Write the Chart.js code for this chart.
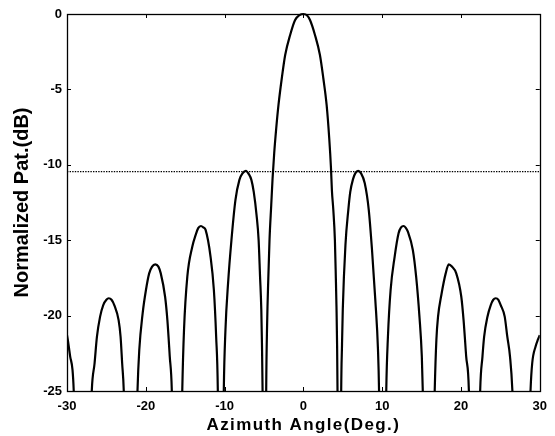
<!DOCTYPE html>
<html>
<head>
<meta charset="utf-8">
<script src="https://cdn.jsdelivr.net/npm/chart.js@4"></script>
<style>
html,body{margin:0;padding:0;background:#fff;}
#wrap{width:555px;height:436px;position:relative;}
</style>
</head>
<body>
<div id="wrap"><canvas id="c" width="555" height="436"></canvas></div>
<script>
// Azimuth angle (deg)
const angles = [
  -30.0, -29.9, -29.6, -29.3, -29.15, -28.0,
  -26.85, -26.5, -26.2, -25.8, -25.4, -25.0, -24.7, -24.35, -24.0, -23.45, -23.2, -23.0, -22.8, -21.9,
  -21.05, -20.83, -20.4, -19.98, -19.57, -19.2, -18.8, -18.4, -18.1, -17.55, -17.26, -16.96, -16.7, -16.0,
  -15.37, -15.15, -14.73, -14.1, -13.67, -13.35, -13.0, -12.7, -12.41, -11.78, -11.36, -11.07, -10.86, -10.5,
  -10.1, -9.89, -9.56, -9.13, -8.62, -8.12, -7.7, -7.3, -6.95, -6.6, -6.3, -5.95, -5.68, -5.5, -5.34, -5.26, -5.18, -4.92,
  -4.72, -4.6, -4.45, -4.3, -4.08, -3.91, -3.7, -3.45, -3.16, -2.74, -2.31, -1.68, -1.05, -0.5, 0.0,
  0.45, 0.84, 1.47, 2.1, 2.53, 2.95, 3.28, 3.5, 3.62, 3.8, 4.0, 4.12, 4.2, 4.28, 4.33, 4.58,
  4.8, 4.9, 5.0, 5.34, 5.7, 5.95, 6.3, 6.6, 6.95, 7.3, 7.79, 8.3, 8.71, 9.13, 9.47, 9.6, 10.05,
  10.52, 10.73, 11.07, 11.58, 12.08, 12.4, 12.7, 13.0, 13.26, 13.89, 14.31, 14.73, 15.03, 15.15, 15.9,
  16.67, 16.88, 17.09, 17.51, 18.06, 18.45, 18.85, 19.4, 20.04, 20.33, 20.66, 21.0, 21.7,
  22.44, 22.73, 22.94, 23.36, 23.78, 24.1, 24.41, 24.75, 25.04, 25.55, 25.88, 26.22, 26.52, 27.7,
  28.83, 29.04, 29.46, 29.76, 30.0
];
// Normalized pattern (dB); -45 marks a null below the axis
const patternDB = [
  -21.3, -21.6, -22.7, -23.6, -24.93, -45,
  -24.93, -23.16, -21.4, -20.07, -19.3, -18.95, -18.85, -18.95, -19.3, -20.3, -21.4, -23.16, -24.93, -45,
  -24.93, -22.3, -19.85, -18.3, -17.2, -16.75, -16.6, -16.75, -17.2, -18.75, -20.3, -22.7, -24.93, -45,
  -24.93, -20.95, -17.42, -15.43, -14.65, -14.2, -14.06, -14.15, -14.32, -16.1, -18.3, -21.4, -24.93, -45,
  -24.93, -20.95, -17.86, -14.99, -12.33, -11.0, -10.55, -10.4, -10.6, -11.0, -11.8, -13.3, -15.0, -17.4, -19.6, -21.8, -24.93, -45,
  -24.93, -20.5, -17.5, -15.0, -12.67, -10.9, -9.2, -7.6, -6.03, -4.26, -2.72, -1.39, -0.4, -0.08, 0.0,
  -0.08, -0.4, -1.39, -2.72, -4.26, -6.03, -8.24, -10.2, -11.7, -13.0, -15.0, -17.5, -19.4, -22.0, -24.93, -45,
  -24.93, -22.0, -19.6, -15.3, -13.0, -11.8, -10.95, -10.55, -10.4, -10.55, -11.23, -13.0, -15.65, -18.97, -22.28, -24.93, -45,
  -24.93, -21.4, -18.3, -16.1, -14.54, -14.15, -14.06, -14.18, -14.43, -15.65, -17.42, -20.07, -22.7, -24.93, -45,
  -24.93, -21.6, -20.07, -18.63, -17.2, -16.6, -16.75, -17.2, -18.75, -20.3, -22.7, -24.93, -45,
  -24.93, -22.7, -21.4, -20.07, -19.3, -18.95, -18.85, -18.95, -19.3, -20.07, -21.4, -22.7, -24.93, -45,
  -24.93, -23.16, -22.06, -21.6, -21.3
];
const refLevelDB = -10.45;
const xTicks = [-30, -20, -10, 0, 10, 20, 30];
const yTicks = [0, -5, -10, -15, -20, -25];

const curve = angles.map((a, i) => ({x: a, y: patternDB[i]}));
const refLine = [{x: xTicks[0], y: refLevelDB}, {x: xTicks[xTicks.length - 1], y: refLevelDB}];

const FONT = "'Liberation Sans', Arial, sans-serif";

function spacedTitle(s, spacing) {
  if (s._spacedTitle) return;
  const orig = s.drawTitle;
  s.drawTitle = function () {
    const c = this.ctx;
    const prev = c.letterSpacing;
    c.letterSpacing = spacing;
    orig.call(this);
    c.letterSpacing = prev || '0px';
  };
  s._spacedTitle = true;
}

const boxPlugin = {
  id: 'box',
  afterDatasetsDraw(chart) {
    const {ctx, chartArea: a, scales} = chart;
    ctx.save();
    ctx.strokeStyle = '#000';
    ctx.lineWidth = 1;
    const L = 4;
    ctx.beginPath();
    xTicks.forEach(v => {
      const px = Math.round(scales.x.getPixelForValue(v)) + 0.5;
      ctx.moveTo(px, a.bottom); ctx.lineTo(px, a.bottom - L);
      ctx.moveTo(px, a.top); ctx.lineTo(px, a.top + L);
    });
    yTicks.forEach(v => {
      const py = Math.round(scales.y.getPixelForValue(v)) + 0.5;
      ctx.moveTo(a.left, py); ctx.lineTo(a.left + L, py);
      ctx.moveTo(a.right, py); ctx.lineTo(a.right - L, py);
    });
    ctx.stroke();
    ctx.lineWidth = 1.3;
    ctx.strokeRect(Math.round(a.left) + 0.5, Math.round(a.top) + 0.5,
                   Math.round(a.right - a.left), Math.round(a.bottom - a.top));
    ctx.restore();
  }
};

new Chart(document.getElementById('c'), {
  type: 'scatter',
  data: {
    datasets: [
      {
        data: curve, showLine: true, borderColor: '#000', borderWidth: 2.2,
        pointRadius: 0, cubicInterpolationMode: 'monotone',
        clip: {left: 0, right: 0, top: 3, bottom: 0}
      },
      {
        data: refLine, showLine: true, borderColor: '#000', borderWidth: 1.4,
        borderDash: [1.4, 1.2], pointRadius: 0
      }
    ]
  },
  options: {
    responsive: false,
    animation: false,
    events: [],
    layout: {padding: {top: 14, right: 12, left: 0, bottom: 0}},
    plugins: {legend: {display: false}, tooltip: {enabled: false}},
    scales: {
      x: {
        type: 'linear', min: -30, max: 30,
        afterBuildTicks: s => { s.ticks = xTicks.map(v => ({value: v})); },
        afterFit: s => { s.height = 45; spacedTitle(s, '1.4px'); },
        grid: {display: false, drawTicks: false},
        border: {display: false},
        ticks: {color: '#000', padding: 8, maxRotation: 0,
                font: {family: FONT, size: 13, weight: 'bold'}},
        title: {display: true, text: 'Azimuth Angle(Deg.)', color: '#000',
                padding: {top: 0, bottom: 0},
                font: {family: FONT, size: 17, weight: 'bold'}}
      },
      y: {
        type: 'linear', min: -25, max: 0,
        afterBuildTicks: s => { s.ticks = yTicks.map(v => ({value: v})); },
        afterFit: s => { s.width = 67; },
        grid: {display: false, drawTicks: false},
        border: {display: false},
        ticks: {color: '#000', padding: 5,
                font: {family: FONT, size: 13, weight: 'bold'}},
        title: {display: true, text: 'Normalized Pat.(dB)', color: '#000',
                padding: {top: 10, bottom: 0},
                font: {family: FONT, size: 20, weight: 'bold'}}
      }
    }
  },
  plugins: [boxPlugin]
});
</script>
</body>
</html>
